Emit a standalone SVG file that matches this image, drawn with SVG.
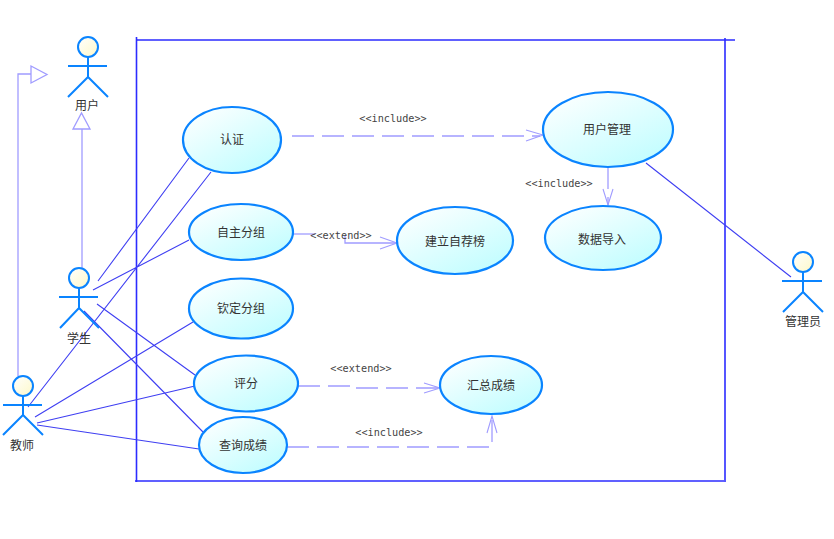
<svg xmlns="http://www.w3.org/2000/svg" width="834" height="539" viewBox="0 0 834 539">
<style>
.bd{stroke:#2c2cff;stroke-width:1.6;fill:none}
.as{stroke:#3f3ff2;stroke-width:1.1;fill:none}
.gen{stroke:#a09cff;stroke-width:1.3;fill:none}
.dash{stroke:#a09cff;stroke-width:1.3;fill:none;stroke-dasharray:22 8}
.bar{stroke:#a09cff;stroke-width:1.1;fill:none}
.uc{fill:url(#ucg);stroke:#0a84ff;stroke-width:2.2}
.hd{fill:url(#hdg);stroke:#0a84ff;stroke-width:2}
.ac{stroke:#0a84ff;stroke-width:2;fill:none}
.t{font-family:"Noto Sans CJK SC","Liberation Sans",sans-serif;font-size:12px;fill:#333;text-anchor:middle;dominant-baseline:central}
.s{font-family:"DejaVu Sans Mono","Liberation Mono",monospace;font-size:10.200px;fill:#444;text-anchor:middle;dominant-baseline:central}
</style>
<defs>
<linearGradient id="ucg" x1="0.1" y1="0" x2="0.9" y2="1"><stop offset="0" stop-color="#ffffff"/><stop offset="1" stop-color="#bdfdff"/></linearGradient>
<linearGradient id="hdg" x1="0" y1="0" x2="1" y2="1"><stop offset="0" stop-color="#ffffff"/><stop offset="1" stop-color="#fdf8c8"/></linearGradient>
</defs>
<rect width="834" height="539" fill="#fff"/>
<g id="boundary">
<path class="bd" d="M136 40H735M136.500 37V482M135 481H724M725 38V482"/>
</g>
<g id="connectors">
<path class="gen" d="M82 268V129M73 129H90L81.500 113Z"/>
<path class="gen" d="M18 376V74H31M31 66V83L47 74.500Z"/>
<path class="as" d="M98 281L189 158M28 407L211 172M93 290L189 240M97 304L195 375M84 311L203 432M35 417L193 322M37 423L195 386M37 425L199 449M646 163L791 277"/>
<path class="dash" d="M292 136H540"/>
<path class="bar" d="M526 130L543 135L526 141"/>
<path class="dash" d="M293 234H315"/>
<path class="gen" d="M345 235V243H397"/>
<path class="bar" d="M380 237L397 243L380 249"/>
<path class="dash" d="M608 167V205"/>
<path class="bar" d="M603 189L608 205L613 189"/>
<path class="dash" d="M298 386H353V388H440"/>
<path class="bar" d="M424 383L440 388L424 393"/>
<path class="dash" d="M287 447H492V416"/>
<path class="bar" d="M487 433L492 416L497 433"/>
<text class="s" x="393" y="118">&lt;&lt;include&gt;&gt;</text>
<text class="s" x="559" y="183">&lt;&lt;include&gt;&gt;</text>
<text class="s" x="341" y="235">&lt;&lt;extend&gt;&gt;</text>
<text class="s" x="361" y="368">&lt;&lt;extend&gt;&gt;</text>
<text class="s" x="389" y="432">&lt;&lt;include&gt;&gt;</text>
</g>
<g id="actor-user">
<circle class="hd" cx="88" cy="47" r="10"/>
<path class="ac" d="M88 57V77M68 66H107M68 97L88 77L108 97"/>
<text class="t" x="87" y="104">用户</text>
</g>
<g id="actor-student">
<circle class="hd" cx="79" cy="278" r="10"/>
<path class="ac" d="M79 288V308M59 297H98M60 328L79 308L99 328"/>
<text class="t" x="79" y="337">学生</text>
</g>
<g id="actor-teacher">
<circle class="hd" cx="23" cy="386" r="10"/>
<path class="ac" d="M23 396V415M3 405H42M3 435L23 415L43 435"/>
<text class="t" x="22" y="444">教师</text>
</g>
<g id="actor-admin">
<circle class="hd" cx="803" cy="262" r="10"/>
<path class="ac" d="M803 272V292M782 281H822M783 312L803 292L823 312"/>
<text class="t" x="803" y="320">管理员</text>
</g>
<g id="uc-auth"><ellipse class="uc" cx="232" cy="140" rx="49" ry="33"/><text class="t" x="232" y="138">认证</text></g>
<g id="uc-self-group"><ellipse class="uc" cx="241" cy="232" rx="52" ry="28"/><text class="t" x="241" y="231">自主分组</text></g>
<g id="uc-assign-group"><ellipse class="uc" cx="241" cy="308.500" rx="52" ry="30"/><text class="t" x="241" y="307">钦定分组</text></g>
<g id="uc-score"><ellipse class="uc" cx="246" cy="383.500" rx="52" ry="28"/><text class="t" x="246" y="382">评分</text></g>
<g id="uc-query"><ellipse class="uc" cx="243" cy="445" rx="44" ry="28"/><text class="t" x="243" y="444">查询成绩</text></g>
<g id="uc-user-mgmt"><ellipse class="uc" cx="608" cy="129.500" rx="65" ry="37.500"/><text class="t" x="607" y="128">用户管理</text></g>
<g id="uc-import"><ellipse class="uc" cx="603" cy="238" rx="58" ry="32"/><text class="t" x="602" y="238">数据导入</text></g>
<g id="uc-recommend"><ellipse class="uc" cx="455" cy="240.500" rx="58" ry="33.500"/><text class="t" x="455" y="240">建立自荐榜</text></g>
<g id="uc-summary"><ellipse class="uc" cx="491" cy="385" rx="51" ry="29"/><text class="t" x="491" y="384">汇总成绩</text></g>
</svg>
